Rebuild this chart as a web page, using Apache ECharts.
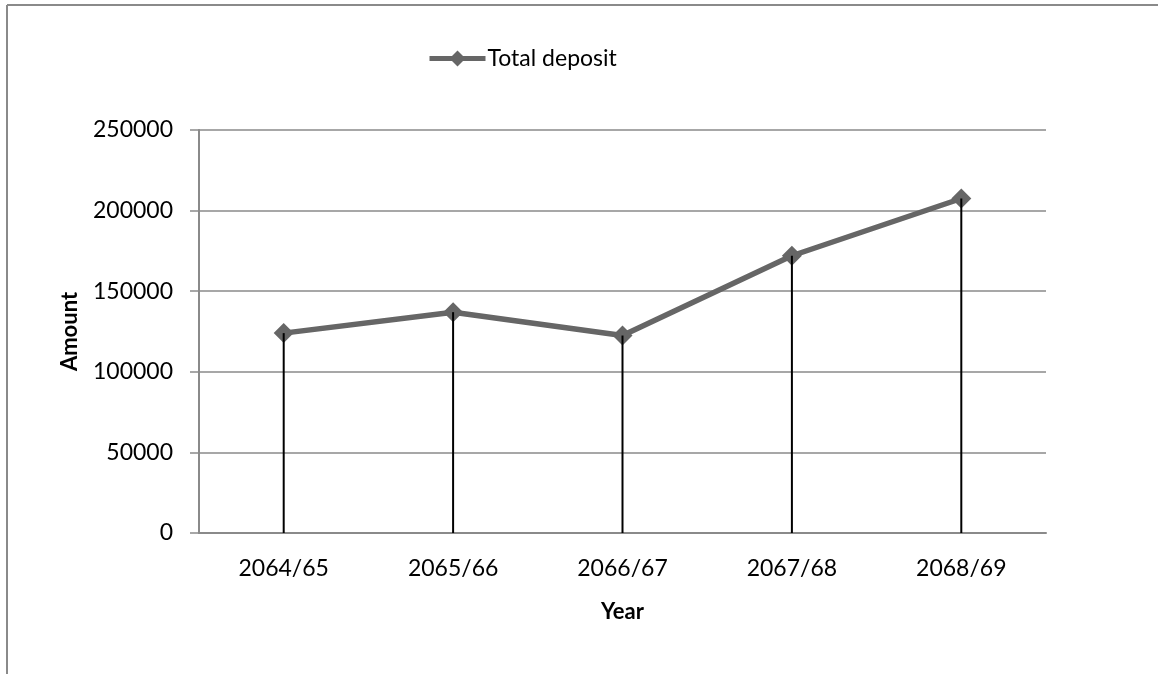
<!DOCTYPE html>
<html>
<head>
<meta charset="utf-8">
<script src="https://cdn.jsdelivr.net/npm/echarts@6/dist/echarts.min.js"></script>
<style>
html,body{margin:0;padding:0;background:#fff;}
#chart{width:1158px;height:674px;}
</style>
</head>
<body>
<div id="chart"></div>
<script>
const categories = ['2064/65','2065/66','2066/67','2067/68','2068/69'];
const totalDeposit = [124000, 137000, 122500, 172000, 207500];
const seriesName = 'Total deposit';
const yTitle = 'Amount';
const xTitle = 'Year';

const chart = echarts.init(document.getElementById('chart'));
const font = 'Lato, Carlito, Calibri, sans-serif';
chart.setOption({
  animation: false,
  backgroundColor: '#fff',
  textStyle: {fontFamily: font},
  graphic: [
    {type: 'line', shape: {x1: 7, y1: 5, x2: 1158, y2: 5}, style: {stroke: '#8a8a8a', lineWidth: 2}},
    {type: 'line', shape: {x1: 7, y1: 5, x2: 7, y2: 674}, style: {stroke: '#8a8a8a', lineWidth: 2}}
  ],
  legend: {
    data: [seriesName],
    top: 47,
    left: 427,
    padding: 0,
    itemWidth: 56,
    itemHeight: 20,
    itemGap: 4,
    lineStyle: {width: 5, color: '#666666'},
    itemStyle: {color: '#666666'},
    textStyle: {fontSize: 23, color: '#000', fontFamily: font, padding: [0,0,0,-3]}
  },
  grid: {left: 199, right: 112, top: 130, bottom: 141},
  xAxis: {
    type: 'category',
    data: categories,
    boundaryGap: true,
    name: xTitle,
    nameLocation: 'middle',
    nameGap: 68,
    nameTextStyle: {fontSize: 22, fontWeight: 'bold', color: '#000', fontFamily: font},
    axisLine: {lineStyle: {color: '#8a8a8a', width: 2}},
    axisTick: {show: false},
    axisLabel: {fontSize: 23, color: '#000', margin: 24, fontFamily: font}
  },
  yAxis: {
    type: 'value',
    min: 0, max: 250000, interval: 50000,
    name: yTitle,
    nameLocation: 'middle',
    nameGap: 118,
    nameTextStyle: {fontSize: 22, fontWeight: 'bold', color: '#000', fontFamily: font},
    axisLine: {show: true, lineStyle: {color: '#8a8a8a', width: 2}},
    axisTick: {show: true, length: 9, lineStyle: {color: '#8a8a8a', width: 1.5}},
    axisLabel: {fontSize: 23, color: '#000', margin: 26, fontFamily: font, formatter: v => String(v)},
    splitLine: {lineStyle: {color: '#8a8a8a', width: 1.5}}
  },
  series: [
    {
      name: seriesName,
      type: 'line',
      data: totalDeposit,
      symbol: 'diamond',
      symbolSize: 20,
      lineStyle: {color: '#666666', width: 5.5},
      itemStyle: {color: '#666666'},
      z: 2
    },
    {
      name: 'drop',
      type: 'bar',
      data: totalDeposit,
      barWidth: 2,
      itemStyle: {color: '#000'},
      z: 3
    }
  ]
});
</script>
</body>
</html>
